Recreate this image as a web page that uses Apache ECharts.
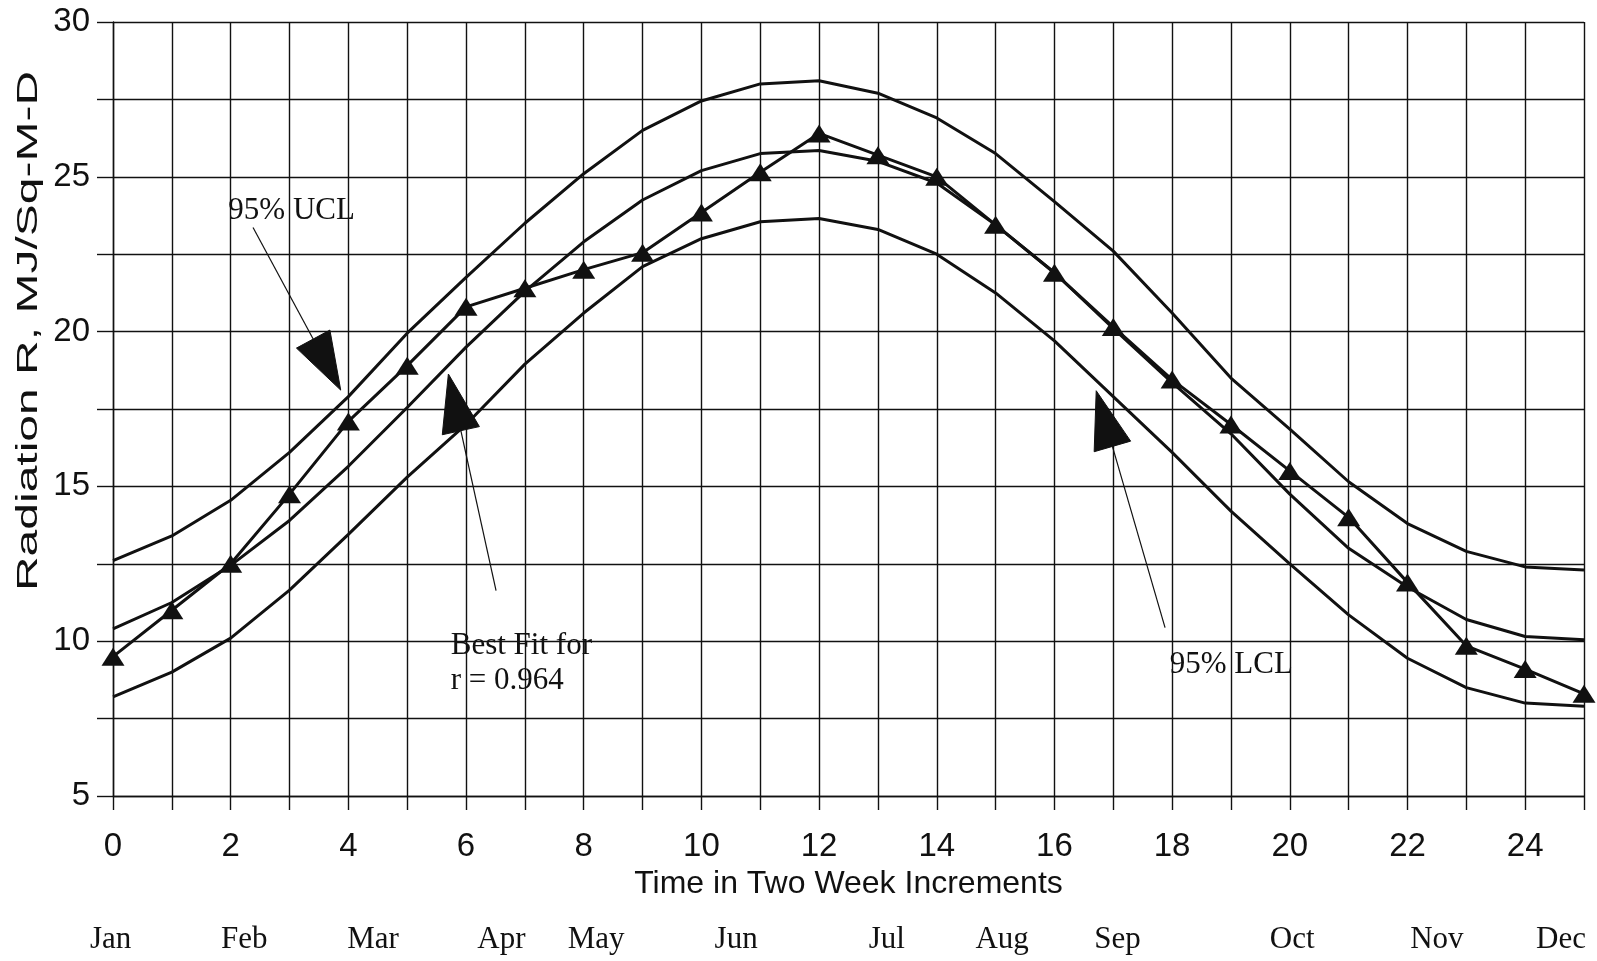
<!DOCTYPE html>
<html>
<head>
<meta charset="utf-8">
<script src="https://cdn.jsdelivr.net/npm/echarts@6/dist/echarts.min.js"></script>
<style>
html, body { margin: 0; padding: 0; background: #ffffff; }
#chart { width: 1597px; height: 961px; }
</style>
</head>
<body>
<div id="chart"></div>
<script>
// ---- data ----
const timeSteps = [0, 1, 2, 3, 4, 5, 6, 7, 8, 9, 10, 11, 12, 13, 14, 15, 16, 17, 18, 19, 20, 21, 22, 23, 24, 25];
const observed = [9.5, 11.0, 12.5, 14.75, 17.1, 18.9, 20.8, 21.4, 22.0, 22.55, 23.85, 25.15, 26.4, 25.7, 25.0, 23.45, 21.9, 20.15, 18.45, 17.0, 15.5, 14.0, 11.9, 9.85, 9.1, 8.3];
const ucl95 = [12.6, 13.4, 14.55, 16.1, 17.9, 19.95, 21.75, 23.5, 25.1, 26.5, 27.45, 28.0, 28.1, 27.7, 26.9, 25.75, 24.2, 22.6, 20.6, 18.5, 16.85, 15.15, 13.8, 12.9, 12.4, 12.3];
const bestFit = [10.4, 11.25, 12.45, 13.9, 15.65, 17.55, 19.5, 21.3, 22.9, 24.25, 25.2, 25.75, 25.85, 25.5, 24.8, 23.45, 21.9, 20.1, 18.35, 16.7, 14.75, 13.0, 11.75, 10.7, 10.15, 10.05];
const lcl95 = [8.2, 9.0, 10.1, 11.65, 13.45, 15.3, 17.0, 18.95, 20.6, 22.1, 23.0, 23.55, 23.65, 23.3, 22.5, 21.25, 19.7, 17.9, 16.1, 14.2, 12.5, 10.85, 9.45, 8.5, 8.0, 7.9];
const months = ['Jan', 'Feb', 'Mar', 'Apr', 'May', 'Jun', 'Jul', 'Aug', 'Sep', 'Oct', 'Nov', 'Dec'];
const monthAt = [-0.04, 2.23, 4.42, 6.6, 8.21, 10.59, 13.15, 15.11, 17.07, 20.04, 22.5, 24.61];
const xTitle = 'Time in Two Week Increments';
const yTitle = 'Radiation R, MJ/Sq-M-D';

// ---- annotations (in data units) ----
const notes = [
  { text: '95% UCL', at: [1.96, 23.9] },
  { text: 'Best Fit for', at: [5.74, 9.86] },
  { text: 'r = 0.964', at: [5.74, 8.73] },
  { text: '95% LCL', at: [17.96, 9.25] }
];
const arrows = [
  { from: [2.38, 23.36], to: [3.87, 18.11] },
  { from: [6.51, 11.63], to: [5.70, 18.63] },
  { from: [17.88, 10.44], to: [16.71, 18.09] }
];

const pair = (ys) => timeSteps.map((x, i) => [x, ys[i]]);
const SANS = "'Liberation Sans', Arial, sans-serif";
const SERIF = "'Liberation Serif', 'Times New Roman', serif";
const INK = '#111';

const chart = echarts.init(document.getElementById('chart'), null, { renderer: 'canvas' });

const curve = (name, ys) => ({
  name, type: 'line', data: pair(ys), showSymbol: false, symbol: 'none',
  lineStyle: { color: INK, width: 3 }, z: 3, animation: false
});

chart.setOption({
  animation: false,
  backgroundColor: '#ffffff',
  grid: { left: 113, right: 13, top: 22, bottom: 165, containLabel: false },
  xAxis: {
    type: 'value', min: 0, max: 25, interval: 1,
    name: xTitle, nameLocation: 'middle', nameGap: 68,
    nameTextStyle: { fontFamily: SANS, fontSize: 32, color: INK },
    axisLine: { show: true, lineStyle: { color: INK, width: 1.4 } },
    axisTick: { show: true, length: 14, lineStyle: { color: INK, width: 1.4 } },
    axisLabel: {
      margin: 34, fontFamily: SANS, fontSize: 33, color: INK,
      formatter: (v) => (Math.round(v) % 2 === 0 ? String(Math.round(v)) : '')
    },
    splitLine: { show: true, lineStyle: { color: INK, width: 1.4 } }
  },
  yAxis: {
    type: 'value', min: 5, max: 30, interval: 2.5,
    axisLine: { show: true, lineStyle: { color: INK, width: 1.4 } },
    axisTick: { show: true, length: 16, lineStyle: { color: INK, width: 1.4 } },
    axisLabel: {
      margin: 23, fontFamily: SANS, fontSize: 33, color: INK,
      formatter: (v) => (Math.abs(v % 5) < 1e-9 ? String(v) : '')
    },
    splitLine: { show: true, lineStyle: { color: INK, width: 1.4 } }
  },
  series: [
    curve('95% UCL', ucl95),
    curve('Best Fit', bestFit),
    curve('95% LCL', lcl95),
    {
      name: 'Observed', type: 'line', data: pair(observed),
      symbol: 'triangle', symbolSize: [23, 18], showSymbol: true,
      itemStyle: { color: INK }, lineStyle: { color: INK, width: 3 }, z: 4
    }
  ]
});

function px(p) { return chart.convertToPixel({ gridIndex: 0 }, p); }

const graphics = [];
// rotated, stretched y-axis title
graphics.push({
  type: 'text', x: 29, y: 331, rotation: Math.PI / 2, scaleX: 1.6, scaleY: 1,
  style: { text: yTitle, font: '30px ' + SANS, fill: INK, align: 'center', verticalAlign: 'middle' }
});
// month labels
months.forEach((m, i) => {
  const p = px([monthAt[i], 5]);
  graphics.push({
    type: 'text', x: p[0], y: 940,
    style: { text: m, font: '31px ' + SERIF, fill: INK, align: 'center', verticalAlign: 'middle' }
  });
});
// annotation texts
notes.forEach((n) => {
  const p = px(n.at);
  graphics.push({
    type: 'text', x: p[0], y: p[1], z: 10,
    style: { text: n.text, font: '31px ' + SERIF, fill: INK, align: 'left', verticalAlign: 'middle' }
  });
});
// arrows
const HEAD_LEN = 58, HEAD_W = 38;
arrows.forEach((a) => {
  const t0 = px(a.from), t1 = px(a.to);
  const dx = t1[0] - t0[0], dy = t1[1] - t0[1];
  const len = Math.hypot(dx, dy);
  const ux = dx / len, uy = dy / len;
  const bx = t1[0] - ux * HEAD_LEN, by = t1[1] - uy * HEAD_LEN;
  const nx = -uy, ny = ux;
  graphics.push({
    type: 'line', z: 10,
    shape: { x1: t0[0], y1: t0[1], x2: bx, y2: by },
    style: { stroke: INK, lineWidth: 1.2 }
  });
  graphics.push({
    type: 'polygon', z: 10,
    shape: { points: [[t1[0], t1[1]], [bx + nx * HEAD_W / 2, by + ny * HEAD_W / 2], [bx - nx * HEAD_W / 2, by - ny * HEAD_W / 2]] },
    style: { fill: INK, stroke: INK, lineWidth: 1 }
  });
});
chart.setOption({ graphic: graphics });
</script>
</body>
</html>
